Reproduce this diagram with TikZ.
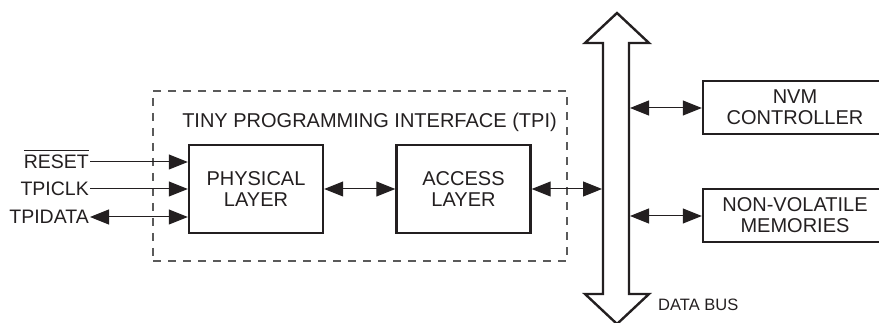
\documentclass[tikz,border=0pt]{standalone}
\usepackage{fontspec}
\setmainfont{Liberation Sans}
\usepackage{xcolor}
\usepackage{tikz}
\usetikzlibrary{arrows.meta,positioning}
\definecolor{ink}{RGB}{35,31,32}
\definecolor{dash}{RGB}{90,90,90}
\newcommand{\barred}[1]{\leavevmode\vbox{\hrule height 1.3pt\kern 4.5pt\hbox{#1}}}

\begin{document}
\begin{tikzpicture}[x=1pt, y=-1pt,
  every node/.style={font=\fontsize{20}{21}\selectfont, text=ink},
  block/.style={draw=ink, line width=2.4pt, inner sep=0pt, align=center,
    minimum width=134pt, minimum height=88pt},
  memblock/.style={block, minimum width=184pt, minimum height=53pt},
  sig/.style={inner sep=1pt, text height=14pt, text depth=0pt},
  pin/.style={sig, anchor=east, font=\fontsize{19.5}{21}\selectfont},
  link/.style={draw=ink, line width=1pt, -{Triangle[length=19pt,width=15pt]}},
  dlink/.style={link, {Triangle[length=19pt,width=15pt]}-{Triangle[length=19pt,width=15pt]}}]
\useasboundingbox (0,0) rectangle (879,323);
% ---- TPI frame with its two layers
\node[draw=dash, line width=1.3pt, dash pattern=on 8pt off 7pt,
  minimum width=414pt, minimum height=170pt] (tpi) at (360,176) {};
\node[sig] (title) at (369.5,120.5) {TINY PROGRAMMING INTERFACE (TPI)};
\node[block] (phys) at (256,189) {PHYSICAL\\LAYER};
\node[block] (acc) at (463.5,189) {ACCESS\\LAYER};
\draw[dlink] (phys) -- (acc);
% ---- pins on the left
\node[pin] (reset) at (90,162) {\barred{RESET}};
\node[pin] (clk) at (90,189) {TPICLK};
\node[pin] (data) at (90,217) {TPIDATA};
\draw[link] (reset) -- (reset -| phys.west);
\draw[link] (clk) -- (clk -| phys.west);
\draw[dlink] (data) -- (data -| phys.west);
% ---- data bus
\draw[ink, line width=2.4pt, fill=white, line join=miter]
  (603,294) -- (603,43) -- (585,43) -- (617,13) -- (649,43) -- (629,43)
  -- (629,294) -- (649,294) -- (617,324) -- (585,294) -- cycle;
\coordinate (busW) at (602,189);
\coordinate (busE1) at (630,108);
\coordinate (busE2) at (630,216);
\node[font=\fontsize{16.5}{18}\selectfont, anchor=west, inner sep=0pt,
  text height=11.8pt, text depth=0pt] (buslbl) at (658,305) {DATA BUS};
\draw[dlink] (acc) -- (busW);
% ---- right side blocks
\node[memblock] (nvm) at (795,107.5) {NVM\\CONTROLLER};
\node[memblock] (nvmem) at (795,215.5) {NON-VOLATILE\\MEMORIES};
\draw[dlink] (busE1) -- (busE1 -| nvm.west);
\draw[dlink] (busE2) -- (busE2 -| nvmem.west);
\end{tikzpicture}
\end{document}
